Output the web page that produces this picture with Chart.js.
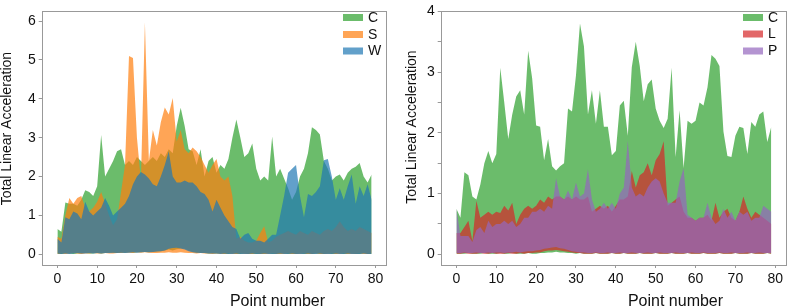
<!DOCTYPE html>
<html><head><meta charset="utf-8">
<script src="https://cdn.jsdelivr.net/npm/chart.js@4.4.0/dist/chart.umd.min.js"></script>
<style>
html,body{margin:0;padding:0;background:#fff;width:791px;height:308px;overflow:hidden}
canvas{position:absolute;top:0}
#cl{left:0}
#cr{left:395px}
</style></head><body>
<canvas id="cl" width="395" height="308"></canvas>
<canvas id="cr" width="396" height="308"></canvas>
<script>
// ---------- data ----------
const pointNumbers = Array.from({length: 80}, (_, i) => i);
const xTickValues = [0, 10, 20, 30, 40, 50, 60, 70, 80];
const xTickLabels = ['0', '10', '20', '30', '40', '50', '60', '70', '80'];
const yTickValuesL = [0, 1, 2, 3, 4, 5, 6];
const yTickLabelsL = ['0', '1', '2', '3', '4', '5', '6'];
const yTickValuesR = [0, 0.5, 1, 1.5, 2, 2.5, 3, 3.5, 4];
const yTickLabelsR = ['0', '', '1', '', '2', '', '3', '', '4'];
const xTitle = 'Point number';
const yTitle = 'Total Linear Acceleration';

// left panel
const leftC_upper = [0.65,0.58,1.33,1.3,1.3,1.25,1.4,1.65,1.6,1.5, 1.75,3.07,2.0,2.2,2.4,2.65,2.7,2.3,2.4,2.3, 2.5,2.4,2.3,2.4,2.5,2.4,2.6,2.5,2.7,2.6, 3.3,3.77,3.3,2.7,2.65,2.3,2.7,2.0,2.4,2.5, 2.1,2.3,2.2,2.45,3.0,3.47,3.0,2.5,2.6,2.85, 2.2,1.9,2.0,1.9,3.03,2.0,2.2,1.95,1.7,1.4, 1.6,2.0,2.2,2.6,3.27,3.2,3.08,2.4,2.2,1.9, 2.0,2.05,1.9,2.1,2.2,2.25,2.35,2.0,1.85,2.05];
const leftC_lower = [0.01,0.01,0.02,0.02,0.01,0.02,0.02,0.03,0.02,0.02, 0.03,0.02,0.03,0.04,0.03,0.03,0.04,0.04,0.05,0.04, 0.05,0.05,0.06,0.05,0.06,0.07,0.08,0.1,0.12,0.1, 0.13,0.15,0.14,0.1,0.06,0.04,0.03,0.03,0.02,0.02, 0.02,0.02,0.01,0.01,0.02,0.01,0.01,0.02,0.01,0.01, 0.01,0.01,0.01,0.02,0.01,0.01,0.01,0.02,0.01,0.01, 0.01,0.02,0.01,0.01,0.01,0.02,0.01,0.01,0.02,0.01, 0.01,0.02,0.01,0.01,0.02,0.01,0.01,0.02,0.01,0.01];
const leftS_upper = [0.45,0.4,1.0,1.45,1.3,1.45,1.5,1.2,1.1,1.2, 1.35,1.6,1.3,1.0,0.75,0.9,1.6,2.3,5.1,5.05, 3.0,1.9,5.97,2.4,3.2,2.8,3.4,3.78,3.6,4.02, 2.9,3.2,2.7,2.6,2.75,2.65,2.5,2.3,2.1,2.3, 2.45,2.0,1.9,2.0,1.5,0.4,0.45,0.35,0.3,0.3, 0.35,0.55,0.72,0.3,0.35,0.45,0.5,0.55,0.6,0.55, 0.5,0.6,0.55,0.5,0.6,0.55,0.5,0.6,0.65,0.6, 0.7,0.85,0.7,0.6,0.65,0.6,0.7,0.65,0.6,0.55];
const leftS_lower = [0.01,0.02,0.01,0.02,0.03,0.02,0.01,0.02,0.02,0.03, 0.02,0.02,0.03,0.02,0.02,0.03,0.03,0.04,0.04,0.03, 0.05,0.04,0.05,0.04,0.03,0.03,0.04,0.04,0.05,0.04, 0.04,0.05,0.04,0.03,0.03,0.02,0.03,0.02,0.02,0.01, 0.02,0.01,0.01,0.02,0.01,0.01,0.02,0.01,0.01,0.01, 0.02,0.01,0.01,0.01,0.02,0.01,0.01,0.01,0.02,0.01, 0.01,0.01,0.02,0.01,0.01,0.02,0.01,0.01,0.01,0.02, 0.01,0.01,0.02,0.01,0.01,0.01,0.02,0.01,0.01,0.02];
const leftW_upper = [0.4,0.3,0.95,0.9,1.1,1.05,0.9,1.35,1.1,1.0, 1.1,1.2,1.45,1.25,1.0,1.1,1.2,1.3,1.5,1.8, 2.0,2.12,2.05,1.95,1.8,1.75,2.0,2.3,2.65,2.0, 1.85,1.85,1.9,1.85,1.85,1.75,1.6,1.55,1.4,1.1, 1.4,1.2,1.0,0.85,0.7,0.65,0.4,0.5,0.55,0.4, 0.35,0.35,0.3,0.4,0.5,0.5,1.0,1.5,2.1,2.2, 2.3,1.5,0.95,1.55,1.5,1.6,1.75,2.42,2.45,2.0, 1.4,1.7,1.4,1.75,2.05,1.3,1.75,1.5,1.8,1.4];
const leftW_lower = [0.02,0.01,0.02,0.01,0.02,0.03,0.02,0.02,0.03,0.02, 0.03,0.02,0.03,0.03,0.04,0.03,0.04,0.03,0.04,0.05, 0.04,0.05,0.06,0.05,0.06,0.07,0.08,0.1,0.14,0.16, 0.17,0.15,0.12,0.08,0.05,0.04,0.03,0.03,0.02,0.02, 0.02,0.01,0.02,0.01,0.01,0.02,0.01,0.01,0.01,0.02, 0.01,0.01,0.02,0.01,0.01,0.01,0.02,0.01,0.01,0.02, 0.01,0.01,0.01,0.02,0.01,0.01,0.02,0.01,0.01,0.01, 0.02,0.01,0.01,0.02,0.01,0.01,0.01,0.02,0.01,0.01];

// right panel
const rightC_upper = [0.75,0.6,1.35,1.3,0.95,0.9,1.15,1.5,1.7,1.5, 1.65,3.07,2.5,1.9,2.3,2.6,2.7,2.3,3.35,2.9, 2.12,2.1,1.55,1.9,1.45,1.38,1.45,1.5,2.4,2.35, 2.95,3.8,3.42,2.3,2.7,2.15,2.7,2.1,2.1,1.63, 1.7,2.45,2.53,1.95,3.08,3.5,3.1,2.52,2.8,2.88, 2.4,2.2,2.08,2.23,3.07,1.6,2.37,1.42,2.2,2.15, 2.2,2.5,2.45,2.75,3.28,3.22,3.1,2.02,1.62,1.6, 1.95,2.1,2.08,1.65,2.18,2.1,2.3,2.35,1.85,2.1];
const rightC_lower = [0.01,0.01,0.01,0.02,0.01,0.01,0.01,0.02,0.01,0.01, 0.01,0.02,0.01,0.01,0.02,0.01,0.01,0.01,0.02,0.01, 0.01,0.02,0.02,0.03,0.03,0.04,0.03,0.03,0.02,0.02, 0.01,0.02,0.01,0.01,0.01,0.02,0.01,0.01,0.01,0.02, 0.01,0.01,0.02,0.01,0.01,0.01,0.02,0.01,0.01,0.01, 0.02,0.01,0.01,0.01,0.02,0.01,0.01,0.01,0.02,0.01, 0.01,0.01,0.02,0.01,0.01,0.01,0.02,0.01,0.01,0.01, 0.02,0.01,0.01,0.01,0.02,0.01,0.01,0.01,0.02,0.01];
const rightL_upper = [0.35,0.35,0.45,0.55,0.22,0.88,0.6,0.65,0.7,0.65, 0.7,0.68,0.8,0.72,0.85,0.5,0.65,0.75,0.8,0.75, 0.8,0.9,0.85,0.95,0.9,0.95,0.95,0.9,0.95,0.9, 0.95,0.9,0.9,0.95,0.7,0.75,0.8,0.75,0.8,0.7, 0.8,0.9,0.9,0.95,1.37,1.1,1.3,1.35,1.5,1.3, 1.55,1.65,1.86,0.8,0.85,0.9,0.95,0.7,0.6,0.6, 0.55,0.6,0.6,0.65,0.55,0.85,0.6,0.7,0.75,0.6, 0.55,0.7,0.95,0.75,0.6,0.7,0.65,0.6,0.55,0.5];
const rightL_lower = [0.01,0.01,0.02,0.01,0.01,0.01,0.02,0.01,0.01,0.02, 0.01,0.01,0.01,0.02,0.01,0.01,0.02,0.01,0.02,0.02, 0.03,0.03,0.05,0.06,0.06,0.07,0.06,0.05,0.04,0.03, 0.02,0.02,0.01,0.01,0.01,0.02,0.01,0.01,0.01,0.02, 0.01,0.01,0.02,0.01,0.01,0.01,0.02,0.01,0.01,0.01, 0.02,0.01,0.01,0.01,0.02,0.01,0.01,0.01,0.02,0.01, 0.01,0.01,0.02,0.01,0.01,0.01,0.02,0.01,0.01,0.01, 0.02,0.01,0.01,0.01,0.02,0.01,0.01,0.01,0.02,0.01];
const rightP_upper = [0.75,0.3,0.3,0.3,0.2,0.4,0.45,0.35,0.55,0.45, 0.5,0.5,0.55,0.5,0.55,0.45,0.5,0.6,0.6,0.7, 0.7,0.75,0.7,0.8,0.75,1.25,0.95,0.9,1.05,0.9, 1.18,0.95,1.0,1.4,0.9,0.7,0.75,0.85,0.75,0.85, 0.75,1.0,1.1,1.87,1.1,0.95,1.0,0.95,1.1,1.2, 1.25,1.2,1.0,0.85,0.85,0.85,1.2,1.42,0.65,0.6, 0.55,0.6,0.6,0.85,0.6,0.5,0.55,0.75,0.6,0.7, 0.55,0.7,0.65,0.7,0.55,0.6,0.6,0.8,0.75,0.7];
const rightP_lower = [0.02,0.02,0.03,0.02,0.02,0.03,0.02,0.02,0.03,0.02, 0.03,0.03,0.02,0.03,0.03,0.04,0.03,0.04,0.05,0.05, 0.06,0.07,0.09,0.1,0.11,0.12,0.1,0.09,0.07,0.05, 0.04,0.03,0.03,0.02,0.02,0.03,0.02,0.02,0.03,0.02, 0.02,0.03,0.02,0.02,0.03,0.02,0.02,0.02,0.03,0.02, 0.02,0.03,0.02,0.02,0.02,0.03,0.02,0.02,0.02,0.03, 0.02,0.02,0.03,0.02,0.02,0.02,0.03,0.02,0.02,0.03, 0.02,0.02,0.02,0.03,0.02,0.02,0.03,0.02,0.02,0.02];

const COLORS = {
  C: 'rgba(44,160,44,0.7)',
  S: 'rgba(255,127,14,0.7)',
  W: 'rgba(31,119,180,0.7)',
  L: 'rgba(214,39,40,0.7)',
  P: 'rgba(148,103,189,0.7)'
};

// ---------- chart ----------
Chart.defaults.font.family = '"Liberation Sans", Arial, Helvetica, sans-serif';
Chart.defaults.font.size = 14;
Chart.defaults.color = '#111';

function pts(arr) { return arr.map((v, i) => ({x: pointNumbers[i], y: v})); }

function buildChart(id, spec) {
  const n = spec.series.length;
  const datasets = [];
  spec.series.forEach((s, k) => {
    const ord = n - k;
    datasets.push({label: s.label + '_low', data: pts(s.lower), borderColor: 'rgba(0,0,0,0)', borderWidth: 0,
      pointRadius: 0, pointHoverRadius: 0, fill: false, order: ord, tension: 0});
    datasets.push({label: s.label, data: pts(s.upper), borderColor: 'rgba(0,0,0,0)', borderWidth: 0,
      pointRadius: 0, pointHoverRadius: 0, backgroundColor: s.color, fill: datasets.length - 1, order: ord, tension: 0});
  });

  const decor = {
    id: 'decor',
    afterDraw(chart) {
      const ctx = chart.ctx, a = chart.chartArea;
      ctx.save();
      // frame
      ctx.strokeStyle = '#999';
      ctx.lineWidth = 1;
      const l = Math.round(a.left), t = Math.round(a.top), r = Math.round(a.right), b = Math.round(a.bottom);
      ctx.strokeRect(l + 0.5, t + 0.5, r - l - 1, b - t);
      // legend
      ctx.font = '14px "Liberation Sans", Arial, sans-serif';
      ctx.textBaseline = 'middle';
      ctx.textAlign = 'left';
      spec.series.forEach((s, k) => {
        const y = spec.legendY[k];
        ctx.fillStyle = s.color;
        ctx.fillRect(spec.legendX, y - 3.5, 20, 7);
        ctx.fillStyle = '#111';
        ctx.fillText(s.label, spec.legendX + 25, y + 0.5);
      });
      // x title
      ctx.font = '16px "Liberation Sans", Arial, sans-serif';
      ctx.textAlign = 'center';
      ctx.textBaseline = 'alphabetic';
      ctx.fillText(xTitle, spec.xTitleX, 306);
      // y title
      ctx.font = '14px "Liberation Sans", Arial, sans-serif';
      ctx.translate(spec.yTitleX, spec.yTitleY);
      ctx.rotate(-Math.PI / 2);
      ctx.textBaseline = 'middle';
      ctx.fillText(yTitle, 0, 0);
      ctx.restore();
    }
  };

  return new Chart(document.getElementById(id), {
    type: 'line',
    data: {datasets},
    plugins: [decor],
    options: {
      responsive: false, animation: false, devicePixelRatio: 1,
      layout: {padding: {left: 0, right: spec.padRight, top: 5, bottom: 0}},
      plugins: {legend: {display: false}, tooltip: {enabled: false}},
      elements: {line: {borderWidth: 0}},
      scales: {
        x: {
          type: 'linear', min: -3.95, max: 82.95,
          afterBuildTicks: sc => { sc.ticks = xTickValues.map(v => ({value: v})); },
          afterFit: sc => { sc.height = 43; },
          ticks: {callback: (v, i) => xTickLabels[i], color: '#111', font: {size: 14}, padding: 3, maxRotation: 0, autoSkip: false},
          grid: {display: true, drawOnChartArea: false, drawTicks: true, tickLength: 3, color: '#999'},
          border: {display: false}
        },
        y: {
          type: 'linear', min: spec.yMin, max: spec.yMax,
          afterBuildTicks: sc => { sc.ticks = spec.yTicks.map(v => ({value: v})); },
          afterFit: sc => { sc.width = spec.yAxisWidth; },
          ticks: {callback: (v, i) => spec.yTickLabels[i], color: '#111', font: {size: 14}, padding: 3, autoSkip: false},
          grid: {display: true, drawOnChartArea: false, drawTicks: true, tickLength: 3, color: '#999'},
          border: {display: false}
        }
      }
    }
  });
}

buildChart('cl', {
  series: [
    {label: 'C', upper: leftC_upper, lower: leftC_lower, color: COLORS.C},
    {label: 'S', upper: leftS_upper, lower: leftS_lower, color: COLORS.S},
    {label: 'W', upper: leftW_upper, lower: leftW_lower, color: COLORS.W}
  ],
  yMin: -0.276, yMax: 6.25, yTicks: yTickValuesL, yTickLabels: yTickLabelsL,
  yAxisWidth: 41.7, padRight: 7.7,
  legendX: 343, legendY: [17.5, 34.5, 51],
  xTitleX: 277.5, yTitleX: 7.5, yTitleY: 128.5
});

buildChart('cr', {
  series: [
    {label: 'C', upper: rightC_upper, lower: rightC_lower, color: COLORS.C},
    {label: 'L', upper: rightL_upper, lower: rightL_lower, color: COLORS.L},
    {label: 'P', upper: rightP_upper, lower: rightP_lower, color: COLORS.P}
  ],
  yMin: -0.177, yMax: 4.0, yTicks: yTickValuesR, yTickLabels: yTickLabelsR,
  yAxisWidth: 45.7, padRight: 4,
  legendX: 348, legendY: [17.5, 34, 51],
  xTitleX: 280.5, yTitleX: 17, yTitleY: 127
});
</script>
</body></html>
